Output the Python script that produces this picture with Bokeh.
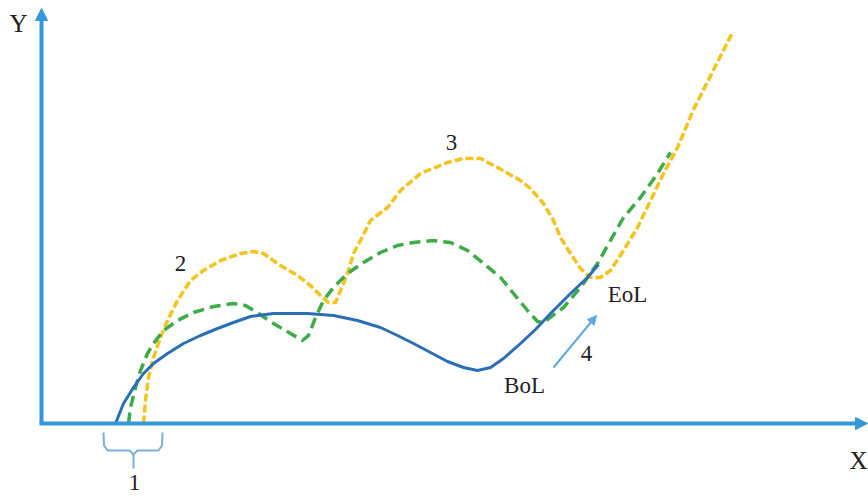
from bokeh.plotting import figure
from bokeh.models import Range1d, Arrow, NormalHead, ColumnDataSource
from bokeh.core.properties import value
from bokeh.embed import file_html
from bokeh.resources import INLINE

# Curve data (schematic units, origin at axes crossing)
blue_x = [74, 78, 82, 92, 102, 112, 126, 142, 159, 176, 192, 209, 232, 266, 292, 316, 339, 356, 372, 389, 406,
          422, 436, 449, 462, 479, 494, 509, 529, 546, 557]
blue_y = [0, 10, 20, 36, 50, 60, 70, 80, 88, 95, 101, 107, 110, 110, 108, 103, 96, 88, 80, 71, 62,
          56, 53, 56, 65, 80, 94, 110, 130, 146, 159]

green_x = [87, 89, 94, 99, 106, 112, 122, 136, 152, 172, 192, 204, 214, 232, 249, 261, 267, 274, 282, 292, 306,
           322, 339, 356, 372, 392, 409, 426, 442, 459, 472, 486, 496, 502, 522, 539, 556, 569, 582, 599, 616, 629]
green_y = [0, 16, 36, 53, 70, 80, 93, 103, 111, 117, 120, 118, 112, 100, 90, 83, 88, 106, 123, 136, 150,
           161, 171, 178, 181, 183, 181, 173, 160, 146, 130, 113, 102, 101, 116, 136, 160, 183, 206, 226, 250, 271]

yellow_x = [102, 104, 107, 112, 119, 126, 136, 149, 162, 179, 199, 212, 222, 239, 256, 269, 279, 287, 294, 299,
            306, 312, 319, 329, 346, 359, 379, 406, 422, 439, 456, 479, 489, 502, 512, 519, 529, 539, 549, 559,
            569, 582, 596, 609, 622, 636, 652, 691]
yellow_y = [0, 23, 46, 66, 86, 103, 123, 143, 153, 163, 170, 172, 170, 158, 148, 138, 128, 121, 121, 133,
            150, 170, 183, 203, 216, 233, 250, 261, 265, 265, 256, 243, 235, 220, 203, 186, 170, 155, 146, 146,
            153, 173, 196, 223, 250, 276, 314, 391]

brace_x = [62, 62.5, 66, 88, 92, 96, 117, 120.5, 121]
brace_y = [-9, -22, -27, -27, -31, -27, -27, -22, -9]
brace_tick_x = [92, 92]
brace_tick_y = [-31, -45]

arrow4 = (512, 56, 555, 108)

label_text = ["1", "2", "3", "4", "BoL", "EoL"]
label_x = [93, 139, 410, 545, 483, 586]
label_y = [-59, 160, 281, 70, 38, 129]

axis_len_x = 826
axis_len_y = 415

AX = "#3497d8"
FONT = "Liberation Serif"

p = figure(width=868, height=498, x_range=Range1d(-41, 827), y_range=Range1d(-75, 423),
           output_backend="svg", toolbar_location=None, min_border=0)
p.axis.visible = False
p.grid.grid_line_color = None
p.outline_line_color = None
p.background_fill_color = "white"

# axes with arrows
p.add_layout(Arrow(x_start=0, y_start=0, x_end=0, y_end=axis_len_y, line_color=AX, line_width=4,
                   end=NormalHead(size=12, fill_color=AX, line_color=AX)))
p.add_layout(Arrow(x_start=-2, y_start=0, x_end=axis_len_x, y_end=0, line_color=AX, line_width=4,
                   end=NormalHead(size=12, fill_color=AX, line_color=AX)))

# curves
p.line(yellow_x, yellow_y, line_color="#f3c31f", line_width=3.5, line_dash="8 3", line_join="round")
p.line(green_x, green_y, line_color="#3cab48", line_width=3.5, line_dash="11 6", line_join="round")
p.line(blue_x, blue_y, line_color="#2a6fb5", line_width=3, line_join="round")

# brace
p.line(brace_x, brace_y, line_color="#7aaedc", line_width=2, line_join="round")
p.line(brace_tick_x, brace_tick_y, line_color="#7aaedc", line_width=2)

# arrow 4
p.add_layout(Arrow(x_start=arrow4[0], y_start=arrow4[1], x_end=arrow4[2], y_end=arrow4[3],
                   line_color="#5ea9e2", line_width=2,
                   end=NormalHead(size=9, fill_color="#5ea9e2", line_color="#5ea9e2")))

src = ColumnDataSource(dict(x=label_x, y=label_y, t=label_text))
p.text(x="x", y="y", text="t", source=src, text_font=value(FONT), text_font_size="23px",
       text_align="center", text_baseline="middle", text_color="#222222")

p.text(x=[-23], y=[400], text=["Y"], text_font=value(FONT), text_font_size="25px",
       text_align="center", text_baseline="middle", text_color="#222222")
p.text(x=[826], y=[-37], text=["X"], text_font=value(FONT), text_font_size="25px",
       text_align="right", text_baseline="middle", text_color="#222222")

open("out.html", "w").write(file_html(p, INLINE))
